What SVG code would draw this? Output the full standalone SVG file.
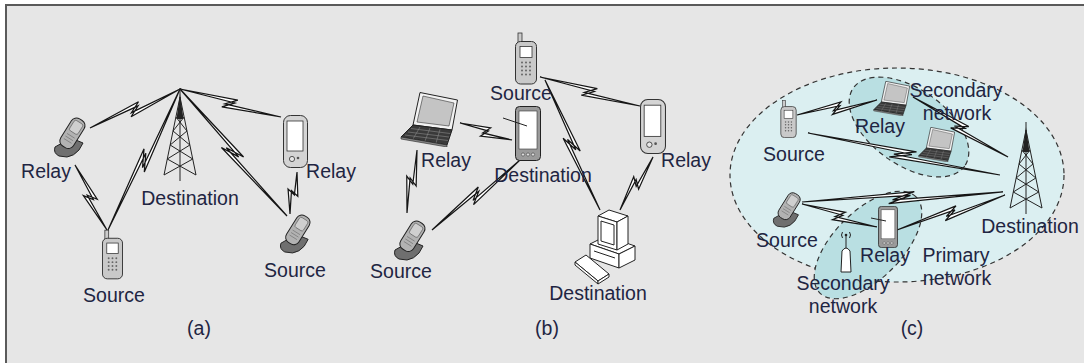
<svg xmlns="http://www.w3.org/2000/svg" xmlns:xlink="http://www.w3.org/1999/xlink" width="1084" height="363" viewBox="0 0 1084 363">
  <style>
    .t{font-family:"Liberation Sans",Arial,sans-serif;font-size:19.5px;fill:#1f2542;text-anchor:middle}
    .bolt{fill:#fff;stroke:#151515;stroke-width:1.25;stroke-linejoin:miter;vector-effect:non-scaling-stroke}
    .ln{fill:none;stroke:#222;stroke-width:1}
    .wf{fill:#fff;stroke:#222;stroke-width:1}
    .zone{stroke:#333;stroke-width:1.2;stroke-dasharray:5 4}
  </style>
  <defs>
    <!-- wireless link: zig-zag sliver along x from 0 to 100 -->
    <path id="bolt" class="bolt" d="M0,0 L56,-4 L45,2 L100,0 L43,5 L54,-1 Z"/>

    <!-- clamshell phone -->
    <symbol id="flip" viewBox="0 0 36 42">
      <path d="M3,31 Q1,37 7,40 L15,41 Q22,40 27,34 L31,27 L19,22 Z" fill="#6f6f6f" stroke="#222"/>
      <g transform="rotate(32 20 17)">
        <rect x="13" y="1" width="15" height="32" rx="6" fill="#b2b2b2" stroke="#222"/>
        <rect x="15.5" y="4" width="10" height="12" rx="2" fill="#cfcfcf" stroke="#555" stroke-width=".6"/>
        <path d="M16,20 h9 M16,23 h9 M16,26 h9" stroke="#777" stroke-width=".7"/>
      </g>
    </symbol>

    <!-- bar phone with antenna -->
    <symbol id="bar" viewBox="0 0 22 52">
      <rect x="3" y="0.5" width="4" height="11" fill="#ccc" stroke="#333" stroke-width=".8"/>
      <rect x="0.5" y="9" width="21" height="42.5" rx="5" fill="#c9c9c9" stroke="#333"/>
      <rect x="5" y="14" width="12" height="11" fill="#fff" stroke="#333" stroke-width=".8"/>
      <g fill="#666">
        <circle cx="7" cy="30" r="1"/><circle cx="11" cy="30" r="1"/><circle cx="15" cy="30" r="1"/>
        <circle cx="7" cy="34" r="1"/><circle cx="11" cy="34" r="1"/><circle cx="15" cy="34" r="1"/>
        <circle cx="7" cy="38" r="1"/><circle cx="11" cy="38" r="1"/><circle cx="15" cy="38" r="1"/>
        <circle cx="7" cy="42" r="1"/><circle cx="11" cy="42" r="1"/><circle cx="15" cy="42" r="1"/>
      </g>
    </symbol>

    <!-- PDA -->
    <symbol id="pda" viewBox="0 0 25 53">
      <rect x="0.5" y="0.5" width="24" height="52" rx="7" fill="#d4d4d4" stroke="#333"/>
      <rect x="4" y="6" width="16" height="30" fill="#fff" stroke="#333" stroke-width=".8"/>
      <circle cx="9" cy="44" r="2.6" fill="#e6e6e6" stroke="#333" stroke-width=".8"/>
      <circle cx="15" cy="43" r="1.3" fill="#555"/>
    </symbol>

    <!-- tablet -->
    <symbol id="tablet" viewBox="0 0 26 55">
      <rect x="0.5" y="0.5" width="25" height="54" rx="4" fill="#9a9a9a" stroke="#222"/>
      <rect x="4" y="5" width="18" height="38" fill="#fff" stroke="#333" stroke-width=".6"/>
      <g fill="#ddd" stroke="#333" stroke-width=".5">
        <circle cx="8" cy="48.5" r="1.6"/><circle cx="13" cy="48.5" r="1.6"/><circle cx="18" cy="48.5" r="1.6"/>
      </g>
    </symbol>

    <!-- laptop -->
    <symbol id="laptop" viewBox="0 0 58 55">
      <polygon points="20,0.5 57.5,8 52,38 13,33" fill="#f2f2f2" stroke="#222"/>
      <polygon points="23,4 54,11 49,34 17,30" fill="#c4c4c4" stroke="#333" stroke-width=".6"/>
      <polygon points="13,33 52,38 47,53 1,45" fill="#3a3a3a" stroke="#222"/>
      <path d="M11,36.5 L50,41.5 M8,40 L49,45 M5,43 L48,48.5 M20,35 L13,47 M30,36 L25,49 M40,37.5 L36,51" stroke="#8a8a8a" stroke-width=".6"/>
      <polygon points="1,45 47,53 47,55 1,47" fill="#888" stroke="#222" stroke-width=".6"/>
    </symbol>

    <!-- lattice tower -->
    <symbol id="tower" viewBox="0 0 36 92">
      <g class="ln">
        <path d="M18,0 V92"/>
        <path d="M18,8 L2,86 M18,8 L34,86"/>
        <path d="M13.9,28 L24.97,42 M22.1,28 L11.03,42 M11.03,42 L27.85,56 M24.97,42 L8.15,56 M8.15,56 L30.72,70 M27.85,56 L5.28,70 M5.28,70 L34,86 M30.72,70 L2,86"/>
      </g>
      <polygon points="18,5 14.5,30 21.5,30" fill="#222"/>
    </symbol>
  </defs>

  <!-- page and panel frame -->
  <rect x="0" y="0" width="1084" height="363" fill="#fff"/>
  <rect x="6" y="5" width="1100" height="380" fill="#e6e6e6" stroke="#5a5a5a" stroke-width="2"/>

  <!-- (c) coverage areas -->
  <g id="areas">
    <ellipse class="zone" cx="897" cy="175" rx="167" ry="107" fill="#dbeff1"/>
    <ellipse class="zone" cx="909" cy="127" rx="68" ry="38" transform="rotate(35 909 127)" fill="#b9dfe2"/>
    <ellipse class="zone" cx="868" cy="245" rx="68" ry="34" transform="rotate(-45 868 245)" fill="#b9dfe2"/>
  </g>

  <!-- wireless links -->
  <g id="links">
    <use href="#bolt" transform="translate(90,128) rotate(-23.43) scale(0.981,1.2)"/>
    <use href="#bolt" transform="translate(108,230) rotate(-62.95) scale(1.583,1.2)"/>
    <use href="#bolt" transform="translate(180,89) rotate(49.89) scale(1.661,1.2)"/>
    <use href="#bolt" transform="translate(180,89) rotate(15.50) scale(1.048,1.2)"/>
    <use href="#bolt" transform="translate(75,165) rotate(63.79) scale(0.724,1.2)"/>
    <use href="#bolt" transform="translate(297,172) rotate(99.46) scale(0.426,1.2)"/>

    <use href="#bolt" transform="translate(540,77) rotate(16.17) scale(1.041,1.2)"/>
    <use href="#bolt" transform="translate(545,80) rotate(67.07) scale(1.412,1.2)"/>
    <use href="#bolt" transform="translate(460,123) rotate(18.10) scale(0.547,1.2)"/>
    <use href="#bolt" transform="translate(417,150) rotate(99.02) scale(0.638,1.2)"/>
    <use href="#bolt" transform="translate(432,230) rotate(-38.50) scale(1.124,1.2)"/>
    <use href="#bolt" transform="translate(653,157) rotate(121.91) scale(0.624,1.2)"/>

    <use href="#bolt" transform="translate(797,115) rotate(-10.62) scale(0.814,1.2)"/>
    <use href="#bolt" transform="translate(913,97) rotate(32.28) scale(1.124,1.2)"/>
    <use href="#bolt" transform="translate(808,133) rotate(12.34) scale(1.965,1.2)"/>
    <use href="#bolt" transform="translate(802,202) rotate(-2.85) scale(2.012,1.2)"/>
    <use href="#bolt" transform="translate(802,204) rotate(17.05) scale(0.784,1.2)"/>
    <use href="#bolt" transform="translate(897,230) rotate(-17.96) scale(1.135,1.2)"/>
  </g>

  <!-- panel (a) -->
  <g id="a-destination">
    <use href="#tower" x="162" y="89" width="36" height="92"/>
    <text class="t" x="190" y="205">Destination</text>
  </g>
  <g id="a-relay-left">
    <use href="#flip" x="52" y="116" width="36" height="42"/>
    <text class="t" x="46" y="178">Relay</text>
  </g>
  <g id="a-source-left">
    <use href="#bar" x="102" y="229" width="21" height="51"/>
    <text class="t" x="114" y="302">Source</text>
  </g>
  <g id="a-relay-right">
    <use href="#pda" x="283" y="115" width="25" height="53"/>
    <text class="t" x="331" y="178">Relay</text>
  </g>
  <g id="a-source-right">
    <use href="#flip" x="278" y="213" width="35" height="41"/>
    <text class="t" x="295" y="277">Source</text>
  </g>
  <text class="t" x="199" y="335">(a)</text>

  <!-- panel (b) -->
  <g id="b-source-top">
    <use href="#bar" x="515" y="32" width="22" height="53"/>
    <text class="t" x="521" y="100">Source</text>
  </g>
  <g id="b-destination-tablet">
    <use href="#tablet" x="515" y="106" width="26" height="55"/>
    <line class="ln" x1="503" y1="118" x2="527" y2="126"/>
    <text class="t" x="543" y="182">Destination</text>
  </g>
  <g id="b-relay-laptop">
    <use href="#laptop" x="400" y="92" width="58" height="55"/>
    <text class="t" x="446" y="167">Relay</text>
  </g>
  <g id="b-relay-pda">
    <use href="#pda" x="640" y="98" width="26" height="57"/>
    <text class="t" x="686" y="167">Relay</text>
  </g>
  <g id="b-source-flip">
    <use href="#flip" x="392" y="219" width="36" height="42"/>
    <text class="t" x="401" y="278">Source</text>
  </g>
  <g id="b-destination-pc">
    <!-- base unit -->
    <polygon class="wf" points="590,244 606,236 635,246 619,254"/>
    <polygon class="wf" points="590,244 619,254 619,268 590,258"/>
    <polygon class="wf" points="619,254 635,246 635,260 619,268"/>
    <line class="ln" x1="594" y1="251" x2="615" y2="258"/>
    <!-- monitor -->
    <polygon class="wf" points="598,216 609,210 628,216 617,222"/>
    <polygon class="wf" points="598,216 617,222 617,250 598,244"/>
    <polygon class="wf" points="617,222 628,216 628,244 617,250"/>
    <polygon class="wf" points="601,221 614,225 614,245 601,241"/>
    <!-- keyboard -->
    <polygon class="wf" points="575,262 586,255 609,274 598,281"/>
    <polygon class="wf" points="575,262 598,281 598,284 575,265"/>
    <polygon class="wf" points="598,281 609,274 609,277 598,284"/>
    <text class="t" x="598" y="300">Destination</text>
  </g>
  <text class="t" x="547" y="335">(b)</text>

  <!-- panel (c) -->
  <g id="c-source-top">
    <use href="#bar" x="780" y="100" width="17" height="38"/>
    <text class="t" x="794" y="161">Source</text>
  </g>
  <g id="c-relay-laptop">
    <use href="#laptop" x="873" y="81" width="37" height="35"/>
    <text class="t" x="880" y="133">Relay</text>
  </g>
  <g id="c-secondary-laptop">
    <use href="#laptop" x="918" y="127" width="37" height="35"/>
  </g>
  <g id="c-destination">
    <use href="#tower" x="1008" y="122" width="36" height="92"/>
    <text class="t" x="1030" y="233">Destination</text>
  </g>
  <g id="c-source-bottom">
    <use href="#flip" x="771" y="191" width="32" height="37"/>
    <text class="t" x="787" y="247">Source</text>
  </g>
  <g id="c-relay-tablet">
    <use href="#tablet" x="878" y="206" width="20" height="42"/>
    <line class="ln" x1="871" y1="218" x2="886" y2="221"/>
    <text class="t" x="885" y="262">Relay</text>
  </g>
  <g id="c-access-point">
    <line class="ln" x1="846" y1="234" x2="846" y2="248"/>
    <circle cx="846" cy="235" r="1.3" fill="#222"/>
    <path class="ln" d="M842.5,232 q-2,3 0,6 M849.5,232 q2,3 0,6" stroke-width=".8"/>
    <path class="wf" d="M841,272 L842,251 Q846,245 850,251 L851,272 Z"/>
  </g>
  <g id="c-labels">
    <text class="t" x="956" y="97">Secondary</text>
    <text class="t" x="957" y="120">network</text>
    <text class="t" x="956" y="262">Primary</text>
    <text class="t" x="957" y="285">network</text>
    <text class="t" x="843" y="290">Secondary</text>
    <text class="t" x="843" y="313">network</text>
  </g>
  <text class="t" x="912" y="335">(c)</text>
</svg>
